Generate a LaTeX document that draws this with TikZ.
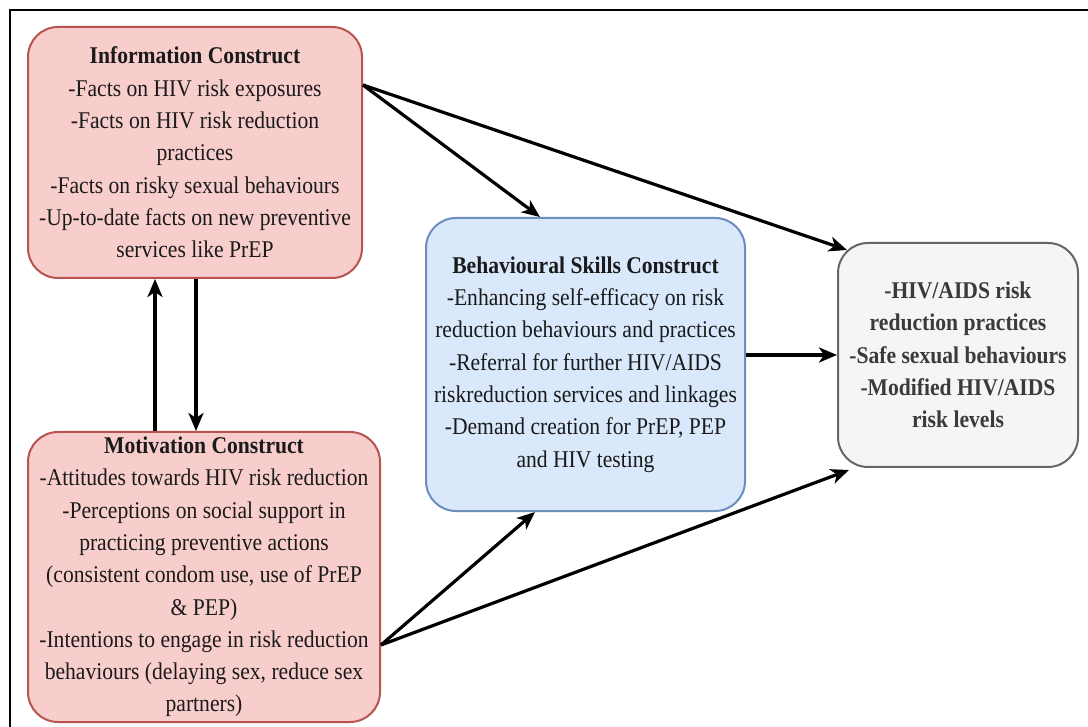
\documentclass[tikz,border=0pt]{standalone}
\usepackage{fontspec}
\setmainfont{Liberation Serif}[FakeStretch=0.9]
\usetikzlibrary{arrows.meta,calc}
\definecolor{redfill}{HTML}{F8CECC}
\definecolor{redline}{HTML}{B85450}
\definecolor{bluefill}{HTML}{DAE8FC}
\definecolor{blueline}{HTML}{6C8EBF}
\definecolor{grayfill}{HTML}{F5F5F5}
\definecolor{grayline}{HTML}{666666}
\definecolor{txt}{HTML}{1A1A1A}
\definecolor{outtxt}{HTML}{3A3A3A}
\tikzset{
  box/.style={draw, rounded corners=30pt, line width=2pt, align=center, inner sep=0pt,
    text=txt, font={\fontsize{24}{32.3}\selectfont}},
  redbox/.style={box, fill=redfill, draw=redline},
  bluebox/.style={box, fill=bluefill, draw=blueline},
  graybox/.style={box, fill=grayfill, draw=grayline, text=outtxt, font={\fontsize{24}{32.3}\selectfont\bfseries}},
  arr/.style={line width=3.2pt, -{Stealth[length=18pt,width=15pt,inset=5pt]}},
  frameline/.style={line width=2.2pt}
}
\begin{document}
\begin{tikzpicture}[x=1pt,y=-1pt]
\useasboundingbox (0,0) rectangle (1088,727);
\fill[white] (0,0) rectangle (1088,727);
\coordinate (fa) at (10,727);
\coordinate (fb) at (10,10);
\coordinate (fc) at (1088,10);
\draw[frameline] (fa) -- (fb) -- (fc);

\node[redbox, minimum width=334pt, minimum height=251pt] (info) at (195,152.5)
  {\textbf{Information Construct}\\-Facts on HIV risk exposures\\-Facts on HIV risk reduction\\practices\\-Facts on risky sexual behaviours\\-Up-to-date facts on new preventive\\services like PrEP};

\node[redbox, minimum width=352pt, minimum height=290pt] (motiv) at (204,577)
  {\textbf{Motivation Construct}\\-Attitudes towards HIV risk reduction\\-Perceptions on social support in\\practicing preventive actions\\(consistent condom use, use of PrEP\\\& PEP)\\-Intentions to engage in risk reduction\\behaviours (delaying sex, reduce sex\\partners)};

\node[bluebox, minimum width=319pt, minimum height=293pt] (behav) at (585.5,364.5)
  {\textbf{Behavioural Skills Construct}\\-Enhancing self-efficacy on risk\\reduction behaviours and practices\\-Referral for further HIV/AIDS\\riskreduction services and linkages\\-Demand creation for PrEP, PEP\\and HIV testing};

\node[graybox, minimum width=240pt, minimum height=224pt] (out) at (958,355)
  {-HIV/AIDS risk\\reduction practices\\-Safe sexual behaviours\\-Modified HIV/AIDS\\risk levels};

\draw[arr] (info.east |- 0,85) -- (behav.north -| 540,0);
\draw[arr] (info.east |- 0,85) -- ($(out.north west)+(10,8)$);
\draw[arr] (motiv.north -| 155,0) -- (info.south -| 155,0);
\draw[arr] (info.south -| 196,0) -- (motiv.north -| 196,0);
\draw[arr] (behav.east |- 0,355) -- (out.west);
\draw[arr] (motiv.east |- 0,645) -- (behav.south -| 535,0);
\draw[arr] (motiv.east |- 0,645) -- ($(out.south west)+(12,2)$);
\end{tikzpicture}
\end{document}
